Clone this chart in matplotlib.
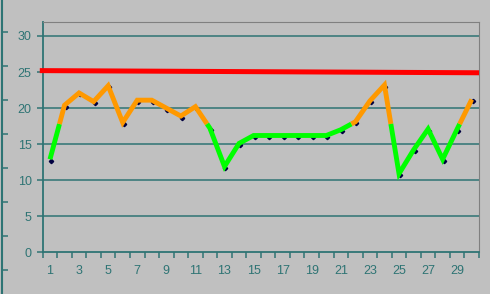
import matplotlib
matplotlib.use("Agg")
import matplotlib.pyplot as plt
import matplotlib.transforms as mtransforms
import numpy as np

# values
days = list(range(1, 31))
values = [12.9, 20.4, 22.1, 20.9, 23.1, 18.0, 21.1, 21.1, 20.0, 18.9,
          20.2, 17.2, 11.9, 15.1, 16.2, 16.2, 16.2, 16.2, 16.2, 16.2,
          17.0, 18.1, 21.0, 23.2, 10.9, 14.2, 17.1, 12.9, 17.1, 21.2]
limit_x = [0.3, 30.5]
limit_y = [25.2, 24.9]
threshold = 17.8
y_ticks = [0, 5, 10, 15, 20, 25, 30]

BG = "#c0c0c0"
TEAL = "#2e7474"
GREEN = "#00ff00"
ORANGE = "#ff9900"
RED = "#ff0000"


def split_runs(x, y, t):
    """split a polyline into runs above / below t, cutting at the crossings"""
    runs = []
    cur_x, cur_y = [x[0]], [y[0]]
    above = y[0] > t
    for i in range(1, len(x)):
        x0, y0, x1, y1 = x[i - 1], y[i - 1], x[i], y[i]
        if (y1 > t) != above:
            xc = x0 + (t - y0) / (y1 - y0) * (x1 - x0)
            cur_x.append(xc)
            cur_y.append(t)
            runs.append((cur_x, cur_y, above))
            cur_x, cur_y = [xc], [t]
            above = y1 > t
        cur_x.append(x1)
        cur_y.append(y1)
    runs.append((cur_x, cur_y, above))
    return runs


fig = plt.figure(figsize=(4.9, 2.94), dpi=100, facecolor=BG)
W, H = 490, 294
x0, x1, y0, y1 = 42.7, 479, 252.3, 22
ax = fig.add_axes([x0 / W, (H - y0) / H, (x1 - x0) / W, (y0 - y1) / H])
ax.set_facecolor(BG)

ax.set_xlim(0.5, 30.5)
ax.set_ylim(0, 30 * (y0 - y1) / (y0 - 36))

for v in y_ticks[1:]:
    ax.axhline(v, color=TEAL, lw=1.1, zorder=1)

ax.plot(limit_x, limit_y, color=RED, lw=3.6, zorder=4, clip_on=False,
        solid_capstyle="butt")

# small diamonds sitting just under the thick line
off = mtransforms.offset_copy(ax.transData, fig=fig, x=1, y=-1.5, units="dots")
ax.plot(days, values, ls="none", marker="D", ms=2.2, color="#000040",
        transform=off, zorder=2)

for rx, ry, above in split_runs(days, values, threshold):
    ax.plot(rx, ry, color=ORANGE if above else GREEN, lw=3.5, zorder=3,
            solid_joinstyle="miter", solid_capstyle="butt")

ax.set_yticks(y_ticks)
ax.set_xticks(np.arange(0.5, 31, 1.0))
ax.set_xticklabels([])
ax.set_xticks(days[::2], minor=True)
ax.set_xticklabels([str(d) for d in days[::2]], minor=True)

ax.tick_params(axis="y", colors=TEAL, length=4, width=1.1, pad=4,
               labelsize=9)
ax.tick_params(axis="x", which="major", colors=TEAL, length=4, width=1.1)
ax.tick_params(axis="x", which="minor", colors=TEAL, length=0, pad=9,
               labelsize=9)
for lab in ax.get_xticklabels(minor=True) + ax.get_yticklabels():
    lab.set_family("Liberation Sans")

ax.spines["left"].set_color(TEAL)
ax.spines["bottom"].set_color(TEAL)
ax.spines["left"].set_linewidth(1.3)
ax.spines["bottom"].set_linewidth(1.3)
ax.spines["top"].set_color("#808080")
ax.spines["right"].set_color("#808080")

# stray axis line on the far left edge
ax2 = fig.add_axes([1.5 / W, 0, 0.001, 1])
ax2.set_ylim(H, 0)
ax2.set_yticks(np.arange(32, 290, 34.0))
ax2.set_yticklabels([])
ax2.set_xticks([])
ax2.tick_params(axis="y", direction="in", colors=TEAL, length=4, width=1.1)
ax2.patch.set_visible(False)
for s in ["top", "bottom", "right"]:
    ax2.spines[s].set_visible(False)
ax2.spines["left"].set_color(TEAL)
ax2.spines["left"].set_linewidth(1.5)

fig.savefig("out.png", dpi=100, facecolor=BG)
